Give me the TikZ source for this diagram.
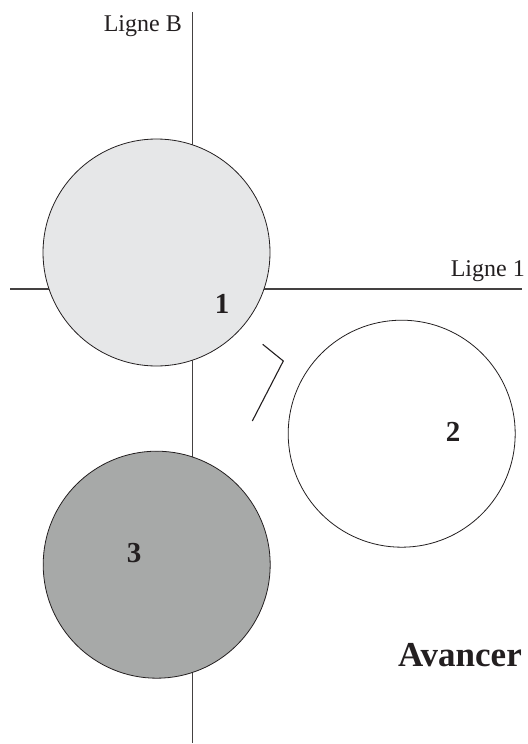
\documentclass[tikz,border=0pt]{standalone}
\usepackage{fontspec}
\setmainfont{Liberation Serif}
\definecolor{lightfill}{HTML}{E6E7E8}
\definecolor{darkfill}{HTML}{A7A9A8}
\definecolor{inkc}{HTML}{231F20}
\tikzset{
  disc/.style={circle, draw=inkc, line width=0.8bp, minimum size=227bp, inner sep=0pt},
  axisline/.style={draw=inkc!85, line width=1.2bp},
  bentline/.style={draw=inkc, line width=1.1bp, line join=miter},
  axlabel/.style={text=inkc, inner sep=0pt, font=\fontsize{24bp}{28bp}\selectfont},
  numlabel/.style={text=inkc, inner sep=0pt, font=\fontsize{29bp}{33bp}\selectfont\bfseries},
  biglabel/.style={text=inkc, inner sep=0pt, font=\fontsize{35bp}{40bp}\selectfont\bfseries}
}
\begin{document}
\begin{tikzpicture}[x=1bp,y=-1bp]
\useasboundingbox (0,0) rectangle (528,744);
% axes
\coordinate (vt) at (192.5,12);
\coordinate (vb) at (192.5,743);
\coordinate (hl) at (10,289);
\coordinate (hr) at (522,289);
\draw[axisline] (vt) -- (vb);
\draw[axisline] (hl) -- (hr);
% discs
\node[disc, fill=lightfill] (c1) at (156.5,252.5) {};
\node[disc, fill=white] (c2) at (401.7,433.7) {};
\node[disc, fill=darkfill] (c3) at (156.7,564.7) {};
% bent connector
\coordinate (p1) at (262.7,344.3);
\coordinate (p2) at (283.3,361);
\coordinate (p3) at (252.3,421);
\draw[bentline] (p1) -- (p2) -- (p3);
% labels
\node[axlabel, anchor=base east] (lb) at (182,31.7) {Ligne B};
\node[axlabel, anchor=base east] (l1) at (525,276.7) {Ligne 1};
\node[numlabel, anchor=base] (n1) at (222,313) {1};
\node[numlabel, anchor=base] (n2) at (453,441) {2};
\node[numlabel, anchor=base] (n3) at (134,562) {3};
\node[biglabel, anchor=base east] (av) at (522,666.7) {Avancer};
\end{tikzpicture}
\end{document}
